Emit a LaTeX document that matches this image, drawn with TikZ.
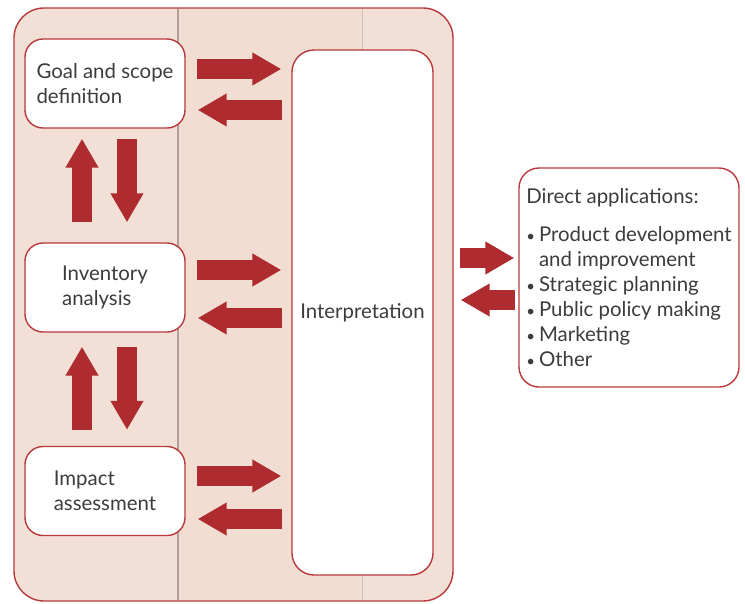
\documentclass[tikz,border=0pt]{standalone}
\usepackage{fontspec}
\setmainfont{Lato}
\usetikzlibrary{arrows.meta,calc}

\definecolor{framered}{RGB}{184,57,60}
\definecolor{arrowred}{RGB}{174,43,47}
\definecolor{wood}{RGB}{242,223,213}
\definecolor{woodlight}{RGB}{241,221,209}
\definecolor{seam}{RGB}{150,135,130}
\definecolor{textgray}{RGB}{60,60,60}

\newcommand{\appdot}{{\fontsize{15}{0}\selectfont\textbullet}\hspace{4pt}}

\tikzset{
  stagebox/.style={draw=framered,line width=1.4pt,fill=white,rounded corners=18pt,
    minimum width=160pt,minimum height=89pt,align=left,text=textgray,
    font=\fontsize{20.4}{24.5}\selectfont},
  bigbox/.style={draw=framered,line width=1.4pt,fill=white,rounded corners=22pt,
    text=textgray,font=\fontsize{20.4}{25}\selectfont},
  blockarrow/.style={draw=arrowred,line width=20pt,
    -{Triangle[length=29pt,width=31pt]}}
}

\begin{document}
\begin{tikzpicture}[x=1pt,y=-1pt]
\useasboundingbox (0,0) rectangle (745,603);
% wooden frame
\fill[wood,rounded corners=30pt] (14,8) rectangle (453,601);
\fill[woodlight] (178,9) rectangle (362,600);
\draw[seam,line width=1.6pt,opacity=0.7] (178,9) -- (178,600);
\draw[seam,line width=1pt,opacity=0.35] (362,9) -- (362,600);
\draw[framered,line width=1.4pt,rounded corners=30pt] (14,8) rectangle (453,601);
% stages
\node[stagebox] (goal) at (105,83.5) {Goal and scope\\definition};
\node[stagebox] (inv) at (105,287.5) {Inventory\\analysis};
\node[stagebox] (impact) at (105,491) {Impact\\assessment};
\node[bigbox,minimum width=141pt,minimum height=525pt] (interp) at (362.5,312.5) {Interpretation};
\node[bigbox,rounded corners=20pt,minimum width=220pt,minimum height=219pt,align=left] (apps) at (629,277.5)
  {Direct applications:\\[13pt]
   \appdot Product development\\
   \hphantom{\appdot}and improvement\\
   \appdot Strategic planning\\
   \appdot Public policy making\\
   \appdot Marketing\\
   \appdot Other};
% stages <-> interpretation
\foreach \s/\up/\dn in {goal/-14.5/26.5,inv/-17.5/30.5,impact/-15/28}{
  \draw[blockarrow] ($(\s.east)+(11,\up)$) -- ($(interp.west |- \s.east)+(-10,\up)$);
  \draw[blockarrow] ($(interp.west |- \s.east)+(-9,\dn)$) -- ($(\s.east)+(12,\dn)$);
}
% stage to stage
\draw[blockarrow] ($(inv.north)+(-23,-20)$) -- ($(goal.south)+(-23,10)$);
\draw[blockarrow] ($(goal.south)+(22,10)$) -- ($(inv.north)+(22,-20)$);
\draw[blockarrow] ($(impact.north)+(-23,-16)$) -- ($(inv.south)+(-23,14)$);
\draw[blockarrow] ($(inv.south)+(22,14)$) -- ($(impact.north)+(22,-16)$);
% interpretation <-> applications
\draw[blockarrow] ($(interp.east)+(26,-54.5)$) -- ($(apps.west |- interp.east)+(-4,-54.5)$);
\draw[blockarrow] ($(apps.west |- interp.east)+(-3,-12.5)$) -- ($(interp.east)+(27,-12.5)$);
\end{tikzpicture}
\end{document}
